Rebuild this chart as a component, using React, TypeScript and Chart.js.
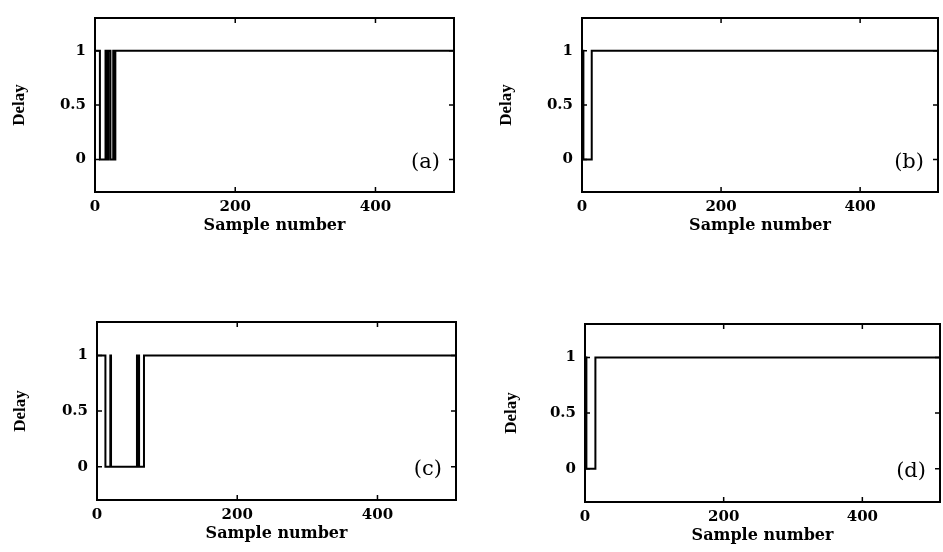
import React, { useEffect, useRef } from "react";
import { Chart, registerables } from "chart.js";

Chart.register(...registerables);

// ---- data ----
const xTickValues = [0, 200, 400];
const yTickValues = [0, 0.5, 1];
const yTickLabels = ["0", "0.5", "1"];
const xMin = 0;
const xMax = 512;
const yMin = -0.3;
const yMax = 1.3;

const sampleA = [0, 7, 15, 17, 19, 22, 26, 27, 29, 512];
const delayA = [1, 0, 1, 0, 1, 0, 1, 0, 1, 1];
const sampleB = [0, 2, 14, 512];
const delayB = [1, 0, 1, 1];
const sampleC = [0, 12, 19, 20, 57, 58, 59, 60, 67, 512];
const delayC = [1, 0, 1, 0, 1, 0, 1, 0, 1, 1];
const sampleD = [0, 2, 15, 512];
const delayD = [1, 0, 1, 1];

const panelLabels = ["(a)", "(b)", "(c)", "(d)"];
const xTitle = "Sample number";
const yTitle = "Delay";

// ---- layout (pixels) ----
type Layout = { box: number[]; area: number[]; yTitleX: number };
const layouts: Layout[] = [
  { box: [0, 0, 471, 276], area: [95, 13, 454, 192], yTitleX: 20 },
  { box: [471, 0, 472, 276], area: [582, 13, 938, 192], yTitleX: 507 },
  { box: [0, 276, 471, 276], area: [97, 322, 456, 500], yTitleX: 21 },
  { box: [471, 276, 472, 276], area: [585, 324, 940, 502], yTitleX: 512 },
];

const SERIF = "'DejaVu Serif', 'Liberation Serif', serif";
const tickFont = { family: SERIF, size: 15, weight: "bold" as const };
const xTitleFont = { family: SERIF, size: 16, weight: "bold" as const, lineHeight: 1.2 };
const yTitleFont = { family: "'Liberation Serif', serif", size: 17, weight: "bold" as const, lineHeight: 1.2 };

const boxPlugin = {
  id: "boxTicks",
  afterDraw(chart: any, _args: any, opts: any) {
    const { ctx, chartArea } = chart;
    const { left, right, top, bottom } = chartArea;
    const xs = chart.scales.x;
    const ys = chart.scales.y;
    ctx.save();
    ctx.strokeStyle = "#000";
    ctx.lineWidth = 2;
    ctx.strokeRect(left, top, right - left, bottom - top);
    ctx.lineWidth = 1.5;
    const tl = 5;
    ctx.beginPath();
    xTickValues.forEach((v) => {
      const px = xs.getPixelForValue(v);
      ctx.moveTo(px, bottom);
      ctx.lineTo(px, bottom - tl);
      ctx.moveTo(px, top);
      ctx.lineTo(px, top + tl);
    });
    yTickValues.forEach((v) => {
      const py = ys.getPixelForValue(v);
      ctx.moveTo(left, py);
      ctx.lineTo(left + tl, py);
      ctx.moveTo(right, py);
      ctx.lineTo(right - tl, py);
    });
    ctx.stroke();
    // panel label
    ctx.fillStyle = "#000";
    ctx.font = `21px ${SERIF}`;
    ctx.textAlign = "right";
    ctx.textBaseline = "middle";
    ctx.fillText(opts.text, right - 14, ys.getPixelForValue(0) + 3);
    ctx.restore();
  },
};

function Panel({ idx, samples, delays }: { idx: number; samples: number[]; delays: number[] }) {
  const ref = useRef<HTMLCanvasElement | null>(null);
  const lay = layouts[idx];
  const [bx, by, bw, bh] = lay.box;
  const [al, at, ar, ab] = lay.area;
  useEffect(() => {
    if (!ref.current) return;
    const yAxisW = al - bx;
    const xAxisH = by + bh - ab;
    const xTitleCenter = ab + 34;
    const xTitlePadBottom = by + bh - xTitleCenter - (xTitleFont.size * 1.2) / 2;
    const yTitlePadTop = lay.yTitleX - bx - (yTitleFont.size * 1.2) / 2;
    const chart = new Chart(ref.current, {
      type: "line",
      data: {
        datasets: [
          {
            data: samples.map((s, i) => ({ x: s, y: delays[i] })),
            borderColor: "#000",
            borderWidth: 2,
            pointRadius: 0,
            stepped: true,
            fill: false,
          },
        ],
      },
      options: {
        animation: false,
        responsive: false,
        maintainAspectRatio: false,
        events: [],
        layout: { padding: { top: at - by, right: bx + bw - ar, left: 0, bottom: 0 } },
        plugins: {
          legend: { display: false },
          tooltip: { enabled: false },
          boxTicks: { text: panelLabels[idx] },
        } as any,
        scales: {
          x: {
            type: "linear",
            min: xMin,
            max: xMax,
            afterBuildTicks: (s: any) => {
              s.ticks = xTickValues.map((v) => ({ value: v }));
            },
            afterFit: (s: any) => {
              s.height = xAxisH;
            },
            grid: { display: false, drawTicks: false },
            border: { display: false },
            ticks: { font: tickFont, color: "#000", padding: 6, maxRotation: 0, autoSkip: false },
            title: {
              display: true,
              text: xTitle,
              font: xTitleFont,
              color: "#000",
              padding: { top: 0, bottom: xTitlePadBottom },
            },
          },
          y: {
            type: "linear",
            min: yMin,
            max: yMax,
            afterBuildTicks: (s: any) => {
              s.ticks = yTickValues.map((v) => ({ value: v }));
            },
            afterFit: (s: any) => {
              s.width = yAxisW;
            },
            grid: { display: false, drawTicks: false },
            border: { display: false },
            ticks: {
              font: tickFont,
              color: "#000",
              padding: 9,
              autoSkip: false,
              callback: (v: any) => {
                const i = yTickValues.indexOf(Number(v));
                return i >= 0 ? yTickLabels[i] : "";
              },
            },
            title: {
              display: true,
              text: yTitle,
              font: yTitleFont,
              color: "#000",
              padding: { top: yTitlePadTop, bottom: 0 },
            },
          },
        },
      } as any,
      plugins: [boxPlugin],
    });
    return () => chart.destroy();
  }, []);
  return (
    <canvas
      ref={ref}
      width={bw}
      height={bh}
      style={{ position: "absolute", left: bx, top: by, width: bw, height: bh }}
    />
  );
}

export default function App() {
  return (
    <div style={{ position: "absolute", left: 0, top: 0, width: 943, height: 552, background: "#fff" }}>
      <Panel idx={0} samples={sampleA} delays={delayA} />
      <Panel idx={1} samples={sampleB} delays={delayB} />
      <Panel idx={2} samples={sampleC} delays={delayC} />
      <Panel idx={3} samples={sampleD} delays={delayD} />
    </div>
  );
}
